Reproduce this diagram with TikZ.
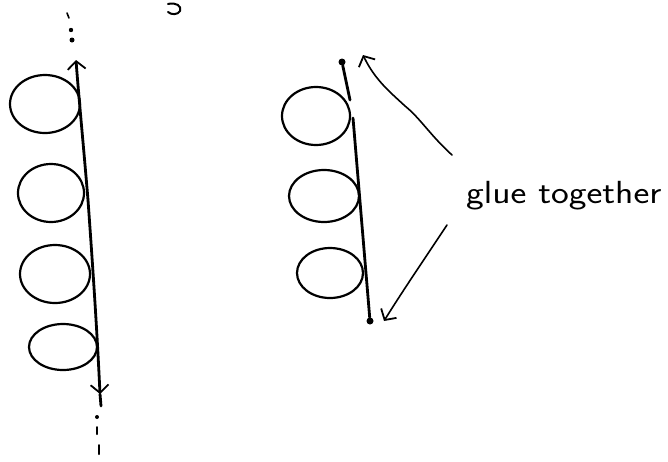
\documentclass[tikz,border=0pt]{standalone}
\usetikzlibrary{arrows.meta}
\begin{document}
\begin{tikzpicture}[x=1pt,y=-1pt,line cap=round,line join=round,
  loopring/.style={line width=2.2pt},
  strand/.style={line width=2.8pt},
  pen/.style={line width=1.6pt},
  barb/.style={-{Straight Barb[length=8pt,width=18pt,line width=1.8pt]}},
  dotend/.style={circle,fill=black,inner sep=0pt,minimum size=7pt},
  label/.style={font=\sffamily\fontsize{32}{32}\selectfont,inner sep=0pt,anchor=base west,xscale=1.18}]
\useasboundingbox (0,0) rectangle (668,461);

% fragment of a letter cut by the top edge
\draw[pen,line width=2pt] (168,4) .. controls (176,2) and (182,6) .. (180,11) .. controls (178,15) and (171,15) .. (168,12);

% ---- left: infinite strand with loops ----
\coordinate (Ltop) at (76,60);
\coordinate (Lmid) at (88,200);
\coordinate (Lbot) at (100,394);
\coordinate (Lend) at (101,406);
\draw[strand,barb] (Lmid) .. controls (83,140) and (79,100) .. (Ltop);
\draw[strand,barb] (Lmid) .. controls (93,270) and (97,330) .. (Lbot);
\draw[strand] (Lbot) -- (Lend);

% dots continuing the strand
\draw[pen] (67,13) -- (69,18);
\fill (71,30) circle (2.2pt);
\fill (72,40) circle (2.5pt);
\fill (97,417) circle (2pt);
\draw[pen,line width=2pt] (97,427) -- (97,434);
\draw[pen,line width=2pt] (99,445) -- (99,454);

% loops hanging off the strand
\draw[loopring] (45,104) ellipse (35 and 29);
\draw[loopring] (51,193) ellipse (33 and 29);
\draw[loopring] (55,274) ellipse (35 and 29);
\draw[loopring] (63,347) ellipse (34 and 23);

% ---- right: finite strand with marked ends ----
\node[dotend] (topdot) at (342,62) {};
\node[dotend] (botdot) at (370,321) {};
\draw[strand] (topdot) -- (350,100);
\draw[strand] (353,118) -- (botdot);

\draw[loopring] (316,116) ellipse (34 and 29);
\draw[loopring] (324,196) ellipse (35 and 26);
\draw[loopring] (330,273) ellipse (33 and 25);

% label and the two arrows pointing at the ends
\node[label] (glue) at (466,203) {glue together};
\coordinate (gtop) at (452,155);
\coordinate (gbot) at (447,225);
\draw[pen,barb] (gtop) .. controls (430,135) and (420,118) .. (405,106) .. controls (390,92) and (375,80) .. ([xshift=21pt,yshift=7pt]topdot.center);
\draw[pen,barb] (gbot) .. controls (425,258) and (400,295) .. ([xshift=14pt,yshift=0pt]botdot.center);
\end{tikzpicture}
\end{document}
